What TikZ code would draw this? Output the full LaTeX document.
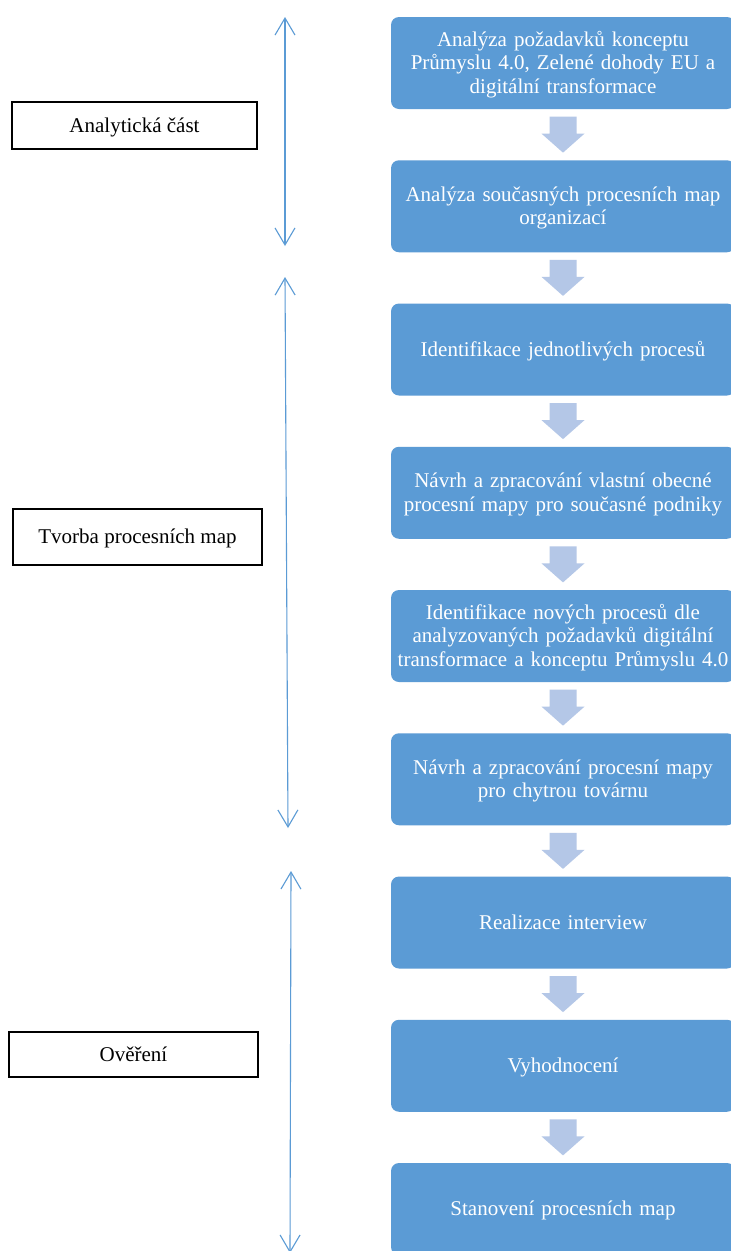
\documentclass[tikz,border=0pt]{standalone}
\usepackage{fontspec}
\setmainfont{Liberation Serif}
\usetikzlibrary{calc,arrows.meta}
\definecolor{stepblue}{HTML}{5B9BD5}
\definecolor{chevblue}{HTML}{B4C7E7}
% fixed line height (18pt above, 4pt below the baseline)
\newcommand\ls{\rule[-4pt]{0pt}{22pt}}
\begin{document}
\begin{tikzpicture}[x=1pt,y=-1pt,
  every node/.style={font=\fontsize{21}{22}\selectfont},
  stepbox/.style={fill=stepblue, text=white, rounded corners=8pt,
    minimum width=344pt, minimum height=92pt, text width=336pt,
    align=center, inner sep=0pt},
  phasebox/.style={draw=black, line width=1.6pt, fill=white,
    minimum width=245pt, minimum height=47pt, inner sep=0pt},
  span/.style={draw=stepblue, line width=1.1pt,
    {Straight Barb[length=17pt,width=20pt]}-{Straight Barb[length=17pt,width=20pt]}},
  chev/.style={fill=chevblue, draw=none}
]
\useasboundingbox (0,0) rectangle (731,1251);
\clip (0,0) rectangle (731,1251);
\fill[white] (0,0) rectangle (731,1251);

% process steps (right column)
\node[stepbox] (b1) at (563,63) {\ls Analýza požadavků konceptu\\\ls Průmyslu 4.0, Zelené dohody EU a\\\ls digitální transformace};
\node[stepbox] (b2) at (563,206.25) {\ls Analýza současných procesních map\\\ls organizací};
\node[stepbox] (b3) at (563,349.5) {\ls Identifikace jednotlivých procesů};
\node[stepbox] (b4) at (563,492.75) {\ls Návrh a zpracování vlastní obecné\\\ls procesní mapy pro současné podniky};
\node[stepbox] (b5) at (563,636) {\ls Identifikace nových procesů dle\\\ls analyzovaných požadavků digitální\\\ls transformace a konceptu Průmyslu 4.0};
\node[stepbox] (b6) at (563,779.25) {\ls Návrh a zpracování procesní mapy\\\ls pro chytrou továrnu};
\node[stepbox] (b7) at (563,922.5) {\ls Realizace interview};
\node[stepbox] (b8) at (563,1065.75) {\ls Vyhodnocení};
\node[stepbox] (b9) at (563,1209) {\ls Stanovení procesních map};

% block arrows between consecutive steps
\foreach \a/\b in {b1/b2,b2/b3,b3/b4,b4/b5,b5/b6,b6/b7,b7/b8,b8/b9}{
  \coordinate (m) at ($(\a.south)!0.5!(\b.north)$);
  \fill[chev] ($(m)+(-13.5,-18)$) -- ($(m)+(13.5,-18)$) -- ($(m)+(13.5,-1)$)
    -- ($(m)+(21.5,-1)$) -- ($(m)+(0,18)$) -- ($(m)+(-21.5,-1)$)
    -- ($(m)+(-13.5,-1)$) -- cycle;
}

% phase labels (left column)
\node[phasebox] (l1) at (134.5,125.5) {\ls Analytická část};
\node[phasebox, minimum width=249pt, minimum height=56pt] (l2) at (137.5,537) {\ls Tvorba procesních map\hspace{9pt}};
\node[phasebox, minimum width=249pt, minimum height=45pt] (l3) at (133.5,1054.5) {\ls Ověření};

% phase extents
\coordinate (s1a) at (285,17);
\coordinate (s1b) at (285,246);
\coordinate (s2a) at (285,277);
\coordinate (s2b) at (288,828);
\coordinate (s3a) at (291,871);
\coordinate (s3b) at (290,1253);
\draw[span] (s1a) -- (s1b);
\draw[span] (s2a) -- (s2b);
\draw[span] (s3a) -- (s3b);
\end{tikzpicture}
\end{document}
